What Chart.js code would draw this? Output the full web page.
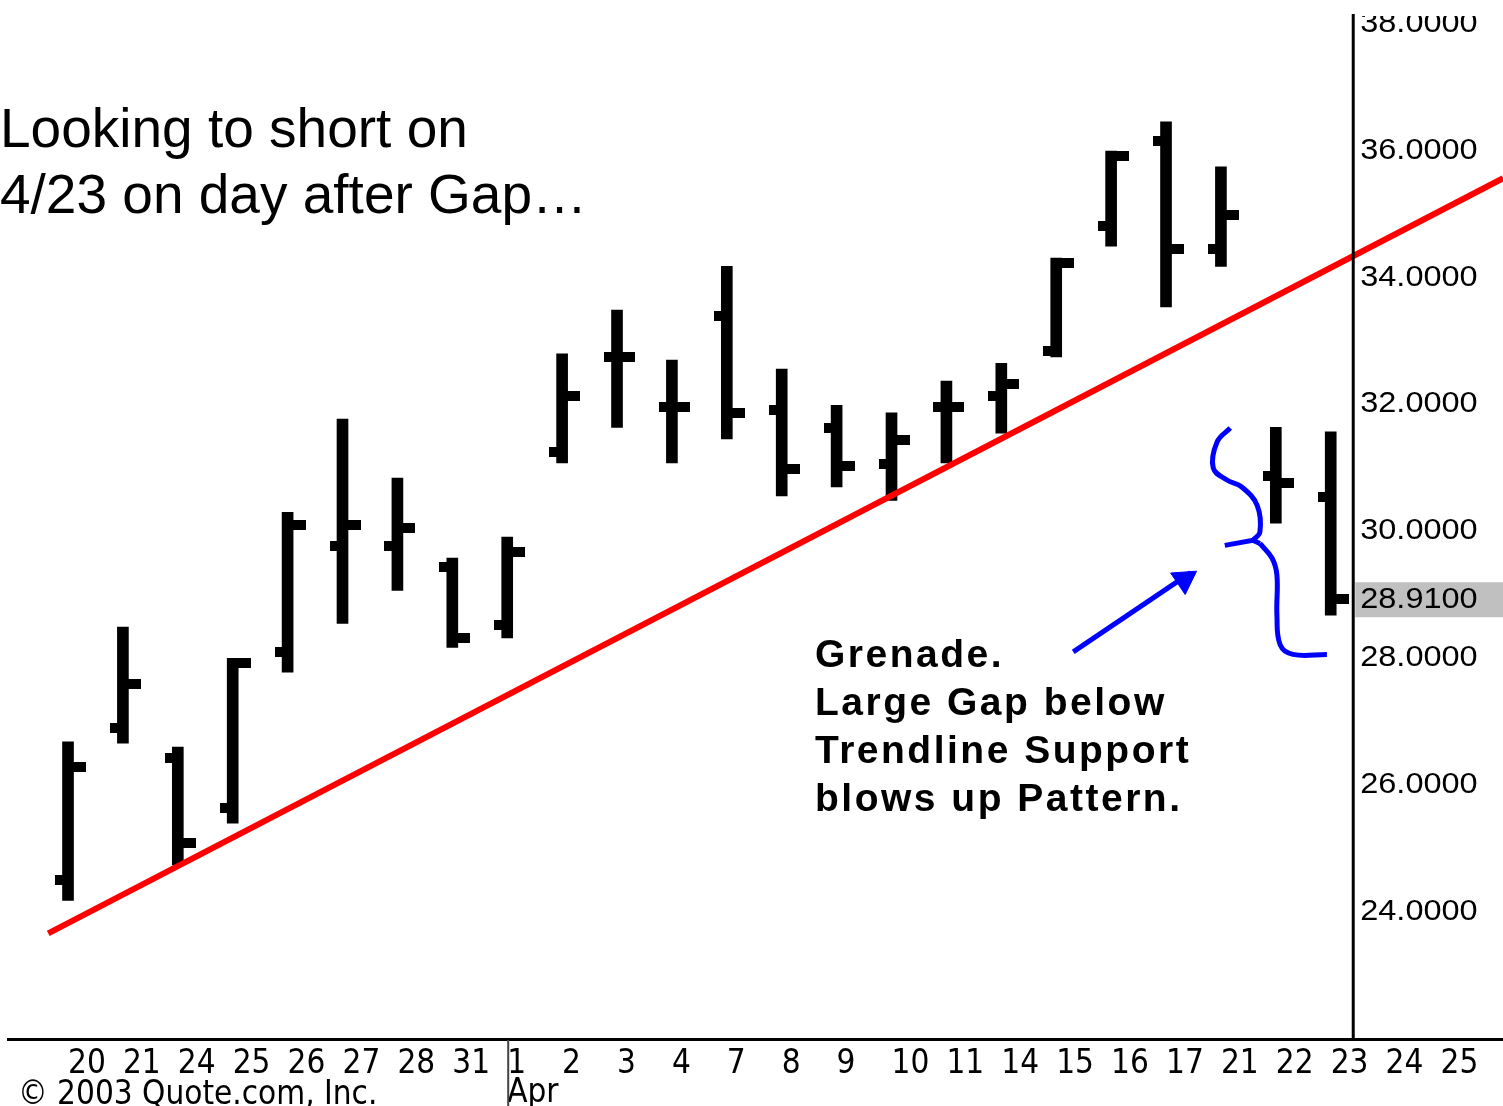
<!DOCTYPE html>
<html>
<head>
<meta charset="utf-8">
<script src="https://cdn.jsdelivr.net/npm/chart.js@4.4.1/dist/chart.umd.min.js"></script>
<style>
  html, body { margin: 0; padding: 0; background: #fff; }
  #wrap { position: relative; width: 1503px; height: 1106px; overflow: hidden; background: #fff; }
  #summaryChart { position: absolute; left: 0; top: 0; }
  .note { position: absolute; color: #000; white-space: pre; }
  #headline { left: 0; top: 95px; font: 55px/66px "Liberation Sans", Arial, sans-serif; }
  #grenade { left: 815px; top: 630px; font: bold 39px/48px "Liberation Sans", Arial, sans-serif; letter-spacing: 2.5px; }
  #copyright { left: 18px; top: 1077px; font: 33px/32px "DejaVu Sans Condensed", "Liberation Sans", sans-serif; }
</style>
</head>
<body>
<div id="wrap">
  <canvas id="summaryChart" width="1503" height="1106"></canvas>
  <div class="note" id="headline">Looking to short on
4/23 on day after Gap…</div>
  <div class="note" id="grenade">Grenade.
Large Gap below
Trendline Support
blows up Pattern.</div>
  <div class="note" id="copyright">© 2003 Quote.com, Inc.</div>
</div>
<script>
// trading days, Mar 20 .. Apr 25 (Apr 24, 25 have no bars yet)
const dayLabels = ['20', '21', '24', '25', '26', '27', '28', '31', ['1', 'Apr'], '2', '3', '4', '7',
  '8', '9', '10', '11', '14', '15', '16', '17', '21', '22', '23', '24', '25'];

const opens  = [24.48, 26.88, 26.40, 25.62, 28.08, 29.75, 29.75, 29.42, 28.50, 31.23, 32.73, 31.94,
  33.38, 31.89, 31.61, 31.04, 31.94, 32.11, 32.82, 34.79, 36.14, 34.43, 30.85, 30.52];
const highs  = [26.66, 28.47, 26.58, 27.98, 30.28, 31.75, 30.82, 29.56, 29.89, 32.78, 33.47, 32.68,
  34.16, 32.54, 31.97, 31.85, 32.35, 32.63, 34.29, 35.98, 36.44, 35.73, 31.62, 31.55];
const lows   = [24.16, 26.64, 24.72, 25.38, 27.76, 28.53, 29.05, 28.15, 28.30, 31.06, 31.62, 31.06,
  31.44, 30.54, 30.68, 30.47, 31.06, 31.53, 32.73, 34.48, 33.52, 34.16, 30.11, 28.66];
const closes = [26.26, 27.57, 25.06, 27.90, 30.08, 30.08, 30.03, 28.30, 29.65, 32.11, 32.73, 31.94,
  31.85, 30.96, 31.01, 31.42, 31.94, 32.30, 34.21, 35.90, 34.43, 34.97, 30.74, 28.91];

const priceTicks = [24, 26, 28, 30, 32, 34, 36, 38];
const lastPrice = 28.91;

// red trendline (x = day index)
const trendX = [-0.36, 26.14];
const trendY = [23.64, 35.55];

// blue hand-drawn arrow and brace
const arrowX = [18.31, 20.45];
const arrowY = [28.08, 29.33];
const arrowHeadX = [20.33];
const arrowHeadY = [29.22];
const braceTopX = [21.17, 20.93, 20.86, 21.11, 21.38, 21.66, 21.71, 21.58];
const braceTopY = [31.61, 31.39, 30.98, 30.79, 30.68, 30.39, 29.97, 29.84];
const braceTipX = [21.07, 21.58, 21.71];
const braceTipY = [29.76, 29.84, 29.79];
const braceLowX = [21.71, 21.93, 22.02, 22.02, 22.08, 22.31, 22.93];
const braceLowY = [29.79, 29.56, 29.29, 28.66, 28.19, 28.04, 28.04];

const xMin = -1.093, xMax = 26.138;
const yMin = 21.96, yMax = 38.14;
const axisAt = 23.41;
const monthBreak = 8;

const pts = (xs, ys) => xs.map((x, i) => ({ x: x, y: ys[i] }));

function tickMark(side) {
  const c = document.createElement('canvas');
  c.width = side === 'left' ? 26 : 36;
  c.height = 10;
  const g = c.getContext('2d');
  g.fillStyle = '#000';
  if (side === 'left') g.fillRect(0, 0, 13, 10);
  else g.fillRect(18, 0, 18, 10);
  return c;
}

const priceAxis = {
  id: 'priceAxis',
  afterDatasetsDraw(chart) {
    const { ctx, chartArea, scales: { x, y } } = chart;
    const ax = x.getPixelForValue(axisAt);
    ctx.save();

    // month separator under "Apr"
    const mx = x.getPixelForValue(monthBreak);
    ctx.fillStyle = '#444';
    ctx.fillRect(mx, chartArea.bottom, 2, chart.height - chartArea.bottom);

    // last price highlight
    const py = y.getPixelForValue(lastPrice);
    ctx.fillStyle = '#c0c0c0';
    ctx.fillRect(ax + 2, py - 17, chartArea.right - ax - 2, 35);

    // price axis line
    ctx.fillStyle = '#000';
    ctx.fillRect(ax - 1.5, chartArea.top, 3, chartArea.bottom - chartArea.top);

    ctx.beginPath();
    ctx.rect(ax, chartArea.top + 2, chartArea.right - ax, chartArea.bottom - chartArea.top);
    ctx.clip();
    ctx.font = '29px "Liberation Sans", Arial, sans-serif';
    ctx.textBaseline = 'middle';
    ctx.textAlign = 'left';
    priceTicks.concat([lastPrice]).forEach(v => {
      ctx.save();
      ctx.translate(ax + 7, y.getPixelForValue(v) + 1);
      ctx.scale(1.12, 1);
      ctx.fillText(v.toFixed(4), 0, 0);
      ctx.restore();
    });
    ctx.restore();
  }
};

const ctx = document.getElementById('summaryChart').getContext('2d');
const blue = '#0000ff';

const chart = new Chart(ctx, {
  type: 'bar',
  data: {
    datasets: [
      {
        type: 'line', data: pts(trendX, trendY),
        borderColor: '#ff0000', borderWidth: 6, pointRadius: 0, order: 0
      },
      {
        type: 'line', data: pts(arrowX, arrowY),
        borderColor: blue, borderWidth: 5, pointRadius: 0, order: 0
      },
      {
        type: 'line', data: pts(arrowHeadX, arrowHeadY), showLine: false,
        pointStyle: 'triangle', pointRotation: 56, pointRadius: 15,
        backgroundColor: blue, borderColor: blue, borderWidth: 1, order: 0
      },
      {
        type: 'line', data: pts(braceTopX, braceTopY), tension: 0.4,
        borderColor: blue, borderWidth: 5, pointRadius: 0, order: 0
      },
      {
        type: 'line', data: pts(braceTipX, braceTipY),
        borderColor: blue, borderWidth: 5, pointRadius: 0, order: 0
      },
      {
        type: 'line', data: pts(braceLowX, braceLowY), tension: 0.4,
        borderColor: blue, borderWidth: 5, pointRadius: 0, order: 0
      },
      {
        type: 'line', data: opens.map((v, i) => ({ x: i, y: v })), showLine: false,
        pointStyle: tickMark('left'), pointRadius: 6, order: 1
      },
      {
        type: 'line', data: closes.map((v, i) => ({ x: i, y: v })), showLine: false,
        pointStyle: tickMark('right'), pointRadius: 6, order: 1
      },
      {
        type: 'bar', data: highs.map((h, i) => ({ x: i, y: [lows[i], h] })),
        backgroundColor: '#000', borderWidth: 0, barThickness: 11, order: 2
      }
    ]
  },
  options: {
    responsive: false,
    animation: false,
    events: [],
    layout: { autoPadding: false, padding: { top: 14, left: 8, right: 0, bottom: -12 } },
    plugins: {
      legend: { display: false },
      tooltip: { enabled: false }
    },
    scales: {
      x: {
        type: 'linear',
        min: xMin,
        max: xMax,
        offset: false,
        afterBuildTicks: axis => { axis.ticks = dayLabels.map((_, i) => ({ value: i })); },
        grid: { display: true, drawOnChartArea: false, drawTicks: false, offset: false },
        border: { display: true, color: '#000', width: 3 },
        ticks: {
          autoSkip: false,
          maxRotation: 0,
          minRotation: 0,
          align: 'start',
          padding: 10,
          color: '#000',
          font: { family: '"Liberation Sans Narrow", "DejaVu Sans Condensed", "Liberation Sans", sans-serif', size: 33, lineHeight: 0.88 },
          callback: value => dayLabels[value] ?? ''
        }
      },
      y: {
        display: false,
        min: yMin,
        max: yMax
      }
    }
  },
  plugins: [priceAxis]
});
</script>
</body>
</html>
